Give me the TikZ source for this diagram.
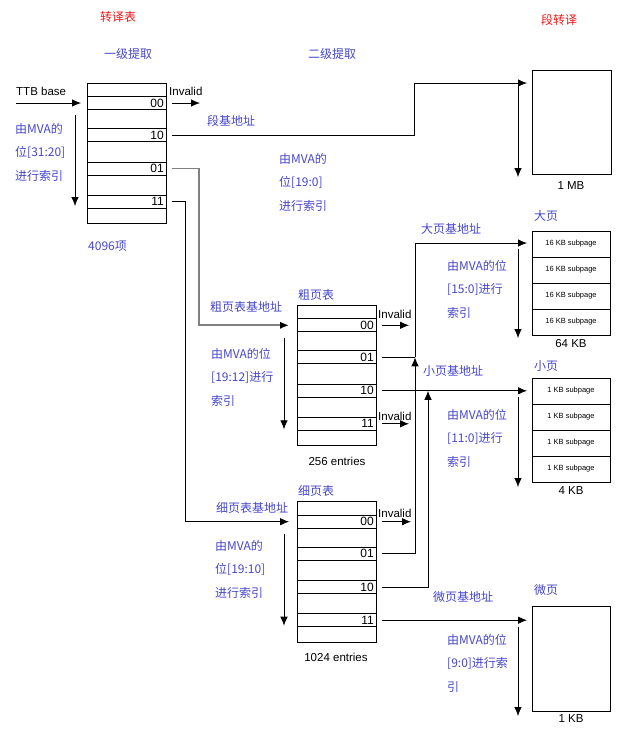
\documentclass[tikz,border=0pt]{standalone}
\usepackage{fontspec}
\setmainfont{Liberation Sans}
\newfontfamily\cjk{Noto Sans CJK SC}
\usetikzlibrary{arrows.meta,positioning}
\definecolor{lblblue}{RGB}{70,70,205}
\definecolor{hdrred}{RGB}{235,25,25}
\tikzset{%
  % Specifications for the boxes of tables and pages:
            base/.style = {draw=black, line width=0.8pt, inner sep=0pt, outer sep=0pt},
           entry/.style = {base, minimum width=79pt, anchor=north west},
          region/.style = {base, minimum width=78pt, anchor=north west},
         subpage/.style = {region, minimum height=26pt, font=\fontsize{7.5}{9}\selectfont},
  % texts
             idx/.style = {anchor=east, inner sep=2pt, font=\fontsize{12}{13}\selectfont},
           latin/.style = {font=\fontsize{11.5}{13}\selectfont},
            hint/.style = {anchor=west, align=left, text=lblblue, font=\cjk\fontsize{12}{23.5}\selectfont},
         heading/.style = {text=hdrred, font=\cjk\fontsize{12}{14}\selectfont},
  % connectors
            link/.style = {line width=0.8pt},
             pil/.style = {link, -{Latex[length=9pt,width=7.5pt,color=black]}},
}

% a page table: nine rows (<prefix>r0..r8), four of them carry an index
\newcommand\pagetable[6]{%
  \node[entry, minimum height=13.5pt] (#1r0) at (#2) {};
  \node[entry, minimum height=13pt,   below=0pt of #1r0] (#1r1) {};
  \node[entry, minimum height=19pt,   below=0pt of #1r1] (#1r2) {};
  \node[entry, minimum height=13pt,   below=0pt of #1r2] (#1r3) {};
  \node[entry, minimum height=20.5pt, below=0pt of #1r3] (#1r4) {};
  \node[entry, minimum height=13pt,   below=0pt of #1r4] (#1r5) {};
  \node[entry, minimum height=20pt,   below=0pt of #1r5] (#1r6) {};
  \node[entry, minimum height=13pt,   below=0pt of #1r6] (#1r7) {};
  \node[entry, minimum height=15.5pt, below=0pt of #1r7] (#1r8) {};
  \node[idx] (#1i1) at (#1r1.east) {#3};
  \node[idx] (#1i3) at (#1r3.east) {#4};
  \node[idx] (#1i5) at (#1r5.east) {#5};
  \node[idx] (#1i7) at (#1r7.east) {#6};
}

\begin{document}
\begin{tikzpicture}[x=1pt, y=-1pt, every node/.style={inner sep=0pt}]
\useasboundingbox (0,0) rectangle (637,732);

% headings
\node (ttitle)	[heading]	at (118,17)	{转译表};
\node (stitle)	[heading]	at (559,20)	{段转译};
\node (lv1)	[hint, anchor=center]	at (128,54)	{一级提取};
\node (lv2)	[hint, anchor=center]	at (332,54)	{二级提取};

% first level table
\pagetable{l1}{87,83}{00}{10}{01}{11}
\node (ttb)	[latin, anchor=west]	at (16,91)	{TTB base};
\node (inv1)	[latin, anchor=west]	at (169,91)	{Invalid};
\node (l1hint)	[hint]	at (15,152)	{由MVA的\\位[31:20]\\进行索引};
\node (l1cnt)	[hint]	at (88,246)	{4096项};
\node (secbase)	[hint]	at (207,121)	{段基地址};
\node (sechint)	[hint]	at (279,182)	{由MVA的\\位[19:0]\\进行索引};

% coarse table
\pagetable{c}{297,305.3}{00}{01}{10}{11}
\node (crname)	[hint]	at (298,295)	{粗页表};
\node (crbase)	[hint]	at (210,307)	{粗页表基地址};
\node (crhint)	[hint]	at (211,377)	{由MVA的位\\{[}19:12{]}进行\\索引};
\node (inv2)	[latin, anchor=west]	at (378,314)	{Invalid};
\node (inv3)	[latin, anchor=west]	at (378,416)	{Invalid};
\node (crcnt)	[latin]	at (337,461)	{256 entries};

% fine table
\pagetable{f}{297,501.7}{00}{01}{10}{11}
\node (frname)	[hint]	at (298,491)	{细页表};
\node (frbase)	[hint]	at (216,508)	{细页表基地址};
\node (frhint)	[hint]	at (215,569)	{由MVA的\\位[19:10]\\进行索引};
\node (inv4)	[latin, anchor=west]	at (378,513)	{Invalid};
\node (frcnt)	[latin]	at (336,657)	{1024 entries};

% section
\node (sect)	[region, minimum width=79pt, minimum height=104pt]	at (532,70)	{};
\node (sectsz)	[latin]	at (571,186)	{1 MB};

% large page
\node (big0)	[subpage]	at (532,231)	{16 KB subpage};
\node (big1)	[subpage, below=0pt of big0]	{16 KB subpage};
\node (big2)	[subpage, below=0pt of big1]	{16 KB subpage};
\node (big3)	[subpage, below=0pt of big2]	{16 KB subpage};
\node (bigname)	[hint]	at (534,216)	{大页};
\node (bigbase)	[hint]	at (421,229)	{大页基地址};
\node (bighint)	[hint]	at (447,289)	{由MVA的位\\{[}15:0{]}进行\\索引};
\node (bigsz)	[latin]	at (571,344)	{64 KB};

% small page
\node (small0)	[subpage]	at (532,378)	{1 KB subpage};
\node (small1)	[subpage, below=0pt of small0]	{1 KB subpage};
\node (small2)	[subpage, below=0pt of small1]	{1 KB subpage};
\node (small3)	[subpage, below=0pt of small2]	{1 KB subpage};
\node (smallname)	[hint]	at (534,366)	{小页};
\node (smallbase)	[hint]	at (423,371)	{小页基地址};
\node (smallhint)	[hint]	at (447,438)	{由MVA的位\\{[}11:0{]}进行\\索引};
\node (smallsz)	[latin]	at (571,491)	{4 KB};

% tiny page
\node (tiny)	[region, minimum height=105pt]	at (532,606)	{};
\node (tinyname)	[hint]	at (534,590)	{微页};
\node (tinybase)	[hint]	at (433,597)	{微页基地址};
\node (tinyhint)	[hint]	at (447,663)	{由MVA的位\\{[}9:0{]}进行索\\引};
\node (tinysz)	[latin]	at (571,719)	{1 KB};

% junctions on the coarse rows
\coordinate (jbig) at ([xshift=39pt]cr3.east);
\coordinate (jsmall) at ([xshift=52pt]cr5.east);

% first level
\draw[pil] ([xshift=-71pt]l1r1.west) -- ([xshift=-6pt]l1r1.west);
\draw[pil] ([xshift=-12pt,yshift=-5pt]l1r1.south west) -- ([xshift=-12pt,yshift=-11pt]l1r7.north west);
\draw[pil] ([xshift=6pt]l1r1.east) -- ++(28,0);
\draw[pil] ([xshift=6pt]l1r3.east) -- ++(242,0) |- ([xshift=-5pt,yshift=-13pt]sect.north west);
\draw[pil, draw=gray, line width=1.8pt] ([xshift=6pt]l1r5.east) -- ++(27,0) |- ([xshift=-8pt]cr1.west);
\draw[pil] ([xshift=6pt]l1r7.east) -- ++(13,0) |- ([xshift=-8pt]fr1.west);
\draw[pil] ([xshift=-14pt,yshift=-13pt]sect.north west) -- ([xshift=-14pt,yshift=-3pt]sect.south west);

% coarse table
\draw[pil] ([xshift=-13pt,yshift=-6pt]cr1.south west) -- ([xshift=-13pt,yshift=-12pt]cr7.north west);
\draw[pil] ([xshift=6pt]cr1.east) -- ++(27,0);
\draw[link] ([xshift=6pt]cr3.east) -- (jbig);
\draw[pil, shorten >=5pt] ([xshift=6pt]cr5.east) -- (cr5.east -| small0.west);
\draw[pil] ([xshift=6pt]cr7.east) -- ++(27,0);

% fine table
\draw[pil] ([xshift=-13pt,yshift=-6pt]fr1.south west) -- ([xshift=-13pt,yshift=-12pt]fr7.north west);
\draw[pil] ([xshift=6pt]fr1.east) -- ++(29,0);
\draw[pil] ([xshift=6pt]fr3.east) -| (jbig);
\draw[pil] ([xshift=6pt]fr5.east) -| (jsmall);
\draw[pil, shorten >=5pt] ([xshift=6pt]fr7.east) -- (fr7.east -| tiny.west);

% into the pages
\draw[pil] (jbig) |- ([xshift=-5pt,yshift=-12pt]big0.north west);
\draw[pil] ([xshift=-14pt,yshift=-18pt]big0.north west) -- ([xshift=-14pt,yshift=-3pt]big3.south west);
\draw[pil] ([xshift=-14pt,yshift=-19pt]small0.north west) -- ([xshift=-14pt,yshift=-5pt]small3.south west);
\draw[pil] ([xshift=-14pt,yshift=-21pt]tiny.north west) -- ([xshift=-14pt,yshift=-5pt]tiny.south west);

\end{tikzpicture}
\end{document}
